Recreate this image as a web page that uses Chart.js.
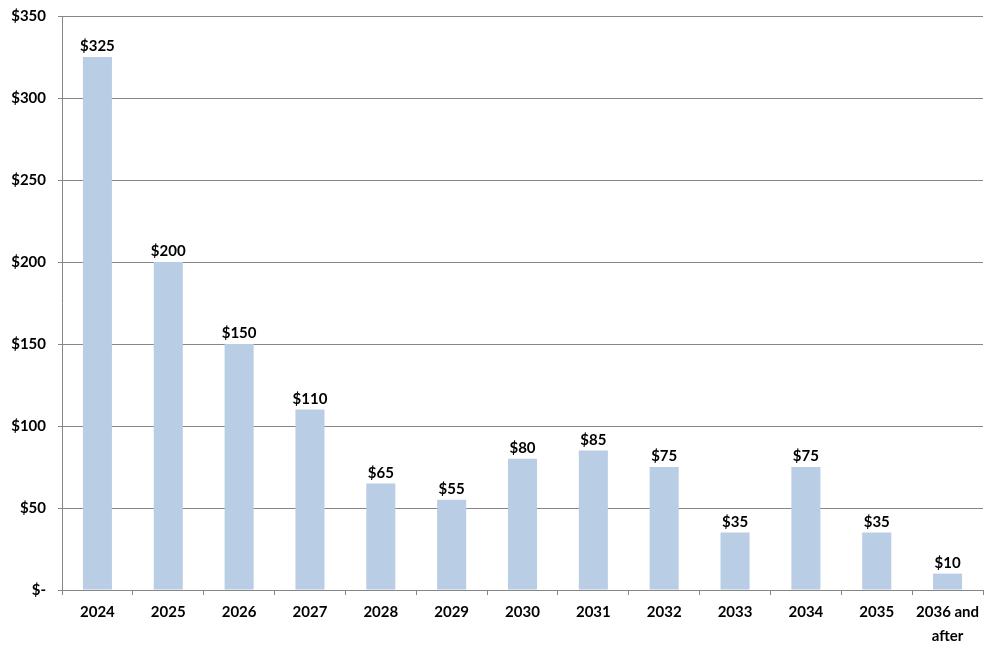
<!DOCTYPE html>
<html>
<head>
<meta charset="utf-8">
<script src="https://cdn.jsdelivr.net/npm/chart.js@4"></script>
<style>
    html, body { margin: 0; padding: 0; background: #fff; }
    #wrap { width: 994px; height: 645px; }
</style>
</head>
<body>
<div id="wrap"><canvas id="maturityChart" width="994" height="645"></canvas></div>
<script>
const categories = ['2024', '2025', '2026', '2027', '2028', '2029', '2030', '2031', '2032', '2033', '2034', '2035', ['2036 and', 'after']];
const amounts = [325, 200, 150, 110, 65, 55, 80, 85, 75, 35, 75, 35, 10];
const yTicks = [0, 50, 100, 150, 200, 250, 300, 350];

const fontFamily = 'Lato, "Liberation Sans", sans-serif';

// simple inline labels above each bar
const barLabels = {
    id: 'barLabels',
    afterDatasetsDraw(chart) {
        const ctx = chart.ctx;
        const meta = chart.getDatasetMeta(0);
        ctx.save();
        ctx.font = 'bold 15px ' + fontFamily;
        ctx.fillStyle = '#000';
        ctx.textAlign = 'center';
        ctx.textBaseline = 'bottom';
        meta.data.forEach((bar, i) => {
            ctx.fillText('$' + amounts[i], bar.x, bar.y - 3);
        });
        ctx.restore();
    }
};

document.addEventListener('DOMContentLoaded', () => {
    const ctx = document.getElementById('maturityChart').getContext('2d');
    new Chart(ctx, {
        type: 'bar',
        data: {
            labels: categories,
            datasets: [{
                label: 'Maturities',
                data: amounts,
                backgroundColor: '#b9cde5',
                borderWidth: 0,
                barPercentage: 0.41,
                categoryPercentage: 1
            }]
        },
        options: {
            responsive: false,
            animation: false,
            layout: { padding: { top: 16, right: 11, left: 0, bottom: 0 } },
            plugins: {
                legend: { display: false },
                tooltip: { enabled: false }
            },
            scales: {
                x: {
                    grid: {
                        offset: true,
                        drawOnChartArea: false,
                        drawTicks: true,
                        tickLength: 5,
                        color: '#868686'
                    },
                    border: { color: '#868686' },
                    ticks: {
                        color: '#000',
                        font: { family: fontFamily, weight: 'bold', size: 15, lineHeight: 1.55 },
                        maxRotation: 0,
                        autoSkip: false,
                        padding: 6
                    },
                    afterFit(scale) {
                        scale.height = 55;
                        scale.paddingLeft = 0;
                        scale.paddingRight = 0;
                    }
                },
                y: {
                    min: 0,
                    max: 350,
                    afterBuildTicks(scale) {
                        scale.ticks = yTicks.map(v => ({ value: v }));
                    },
                    grid: {
                        color: '#868686',
                        tickLength: 4
                    },
                    border: { color: '#868686' },
                    ticks: {
                        color: '#000',
                        font: { family: fontFamily, weight: 'bold', size: 15 },
                        padding: 12,
                        callback: v => v === 0 ? '$-' : '$' + v
                    },
                    afterFit(scale) {
                        scale.width = 62;
                        scale.paddingTop = 0;
                        scale.paddingBottom = 0;
                    }
                }
            }
        },
        plugins: [barLabels]
    });
});
</script>
</body>
</html>
